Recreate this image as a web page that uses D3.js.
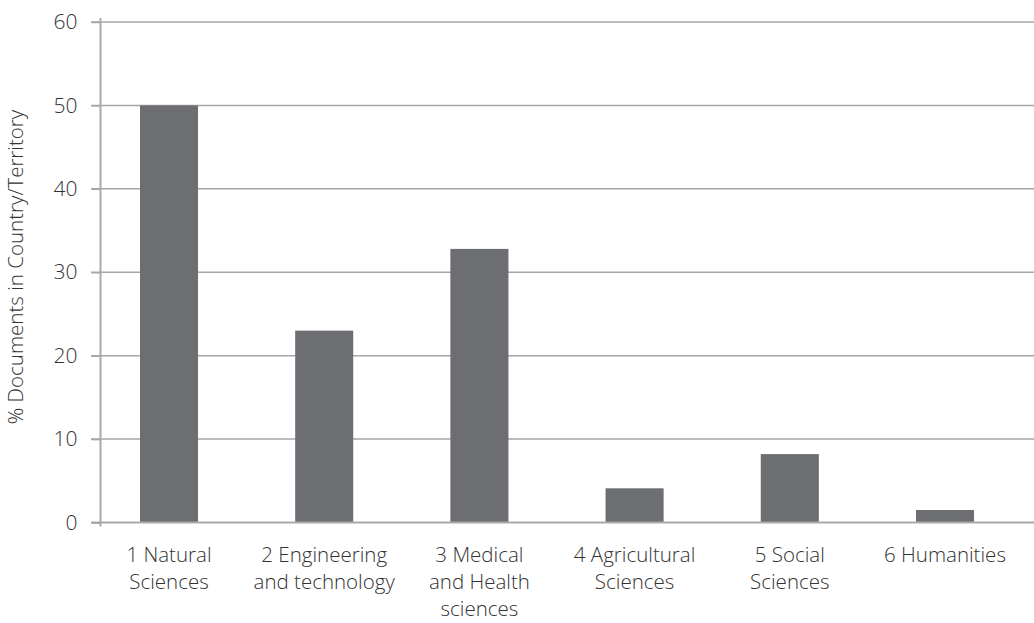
<!DOCTYPE html>
<html><head><meta charset="utf-8">
<script src="https://cdn.jsdelivr.net/npm/d3@7"></script>
<style>
body{margin:0;background:#fff;}
svg text{font-family:"Open Sans", Lato, sans-serif;font-weight:300;fill:#333;}
</style></head>
<body><svg id="c" width="1034" height="623"></svg>
<script>
const categories = [["1 Natural","Sciences"],["2 Engineering","and technology"],["3 Medical","and Health","sciences"],["4 Agricultural","Sciences"],["5 Social","Sciences"],["6 Humanities"]];
const values = [50, 23, 32.8, 4.1, 8.2, 1.5];
const yTicks = [0,10,20,30,40,50,60];
const yLabel = "% Documents in Country/Territory";

const svg = d3.select("#c");
const y = d3.scaleLinear().domain([0,60]).range([522.5,22]);
const x = d3.scaleBand().domain(d3.range(categories.length)).range([91.4,1022.6]).paddingInner(0.626).paddingOuter(0.313);

// gridlines
svg.append("g").selectAll("line").data(yTicks.filter(d=>d>0)).join("line")
  .attr("x1",91).attr("x2",1034).attr("y1",d=>y(d)).attr("y2",d=>y(d))
  .attr("stroke","#a6a6a6").attr("stroke-width",1.5);

// bars
svg.append("g").selectAll("rect").data(values).join("rect")
  .attr("x",(d,i)=>x(i)).attr("width",x.bandwidth())
  .attr("y",d=>y(d)).attr("height",d=>y(0)-y(d)).attr("fill","#6d6e71");

// baseline
svg.append("line").attr("x1",91).attr("x2",1034).attr("y1",y(0)).attr("y2",y(0))
  .attr("stroke","#a7a9ac").attr("stroke-width",2);

// y axis
const ya = svg.append("g").attr("transform","translate(100.5,0)")
  .call(d3.axisLeft(y).tickValues(yTicks).tickSize(9).tickPadding(14));
ya.select(".domain").attr("d",`M0,${y(60)-4}V${y(0)+4}`).attr("stroke","#a7a9ac").attr("stroke-width",2);
ya.selectAll(".tick line").attr("stroke","#a6a6a6").attr("stroke-width",1.5);
ya.selectAll(".tick text").attr("font-size",21).attr("fill","#333").attr("font-family",'"Open Sans", sans-serif').attr("font-weight",300);

// x labels
const xl = svg.append("g");
categories.forEach((lines,i)=>{
  const t = xl.append("text").attr("text-anchor","middle").attr("font-size",20.5)
    .attr("x",x(i)+x.bandwidth()/2).attr("y",562);
  lines.forEach((l,j)=>t.append("tspan").attr("x",x(i)+x.bandwidth()/2).attr("dy",j?27:0).text(l));
});

// y label
svg.append("text").attr("transform","translate(23,267) rotate(-90)")
  .attr("text-anchor","middle").attr("font-size",20.5).text(yLabel);
</script></body></html>
